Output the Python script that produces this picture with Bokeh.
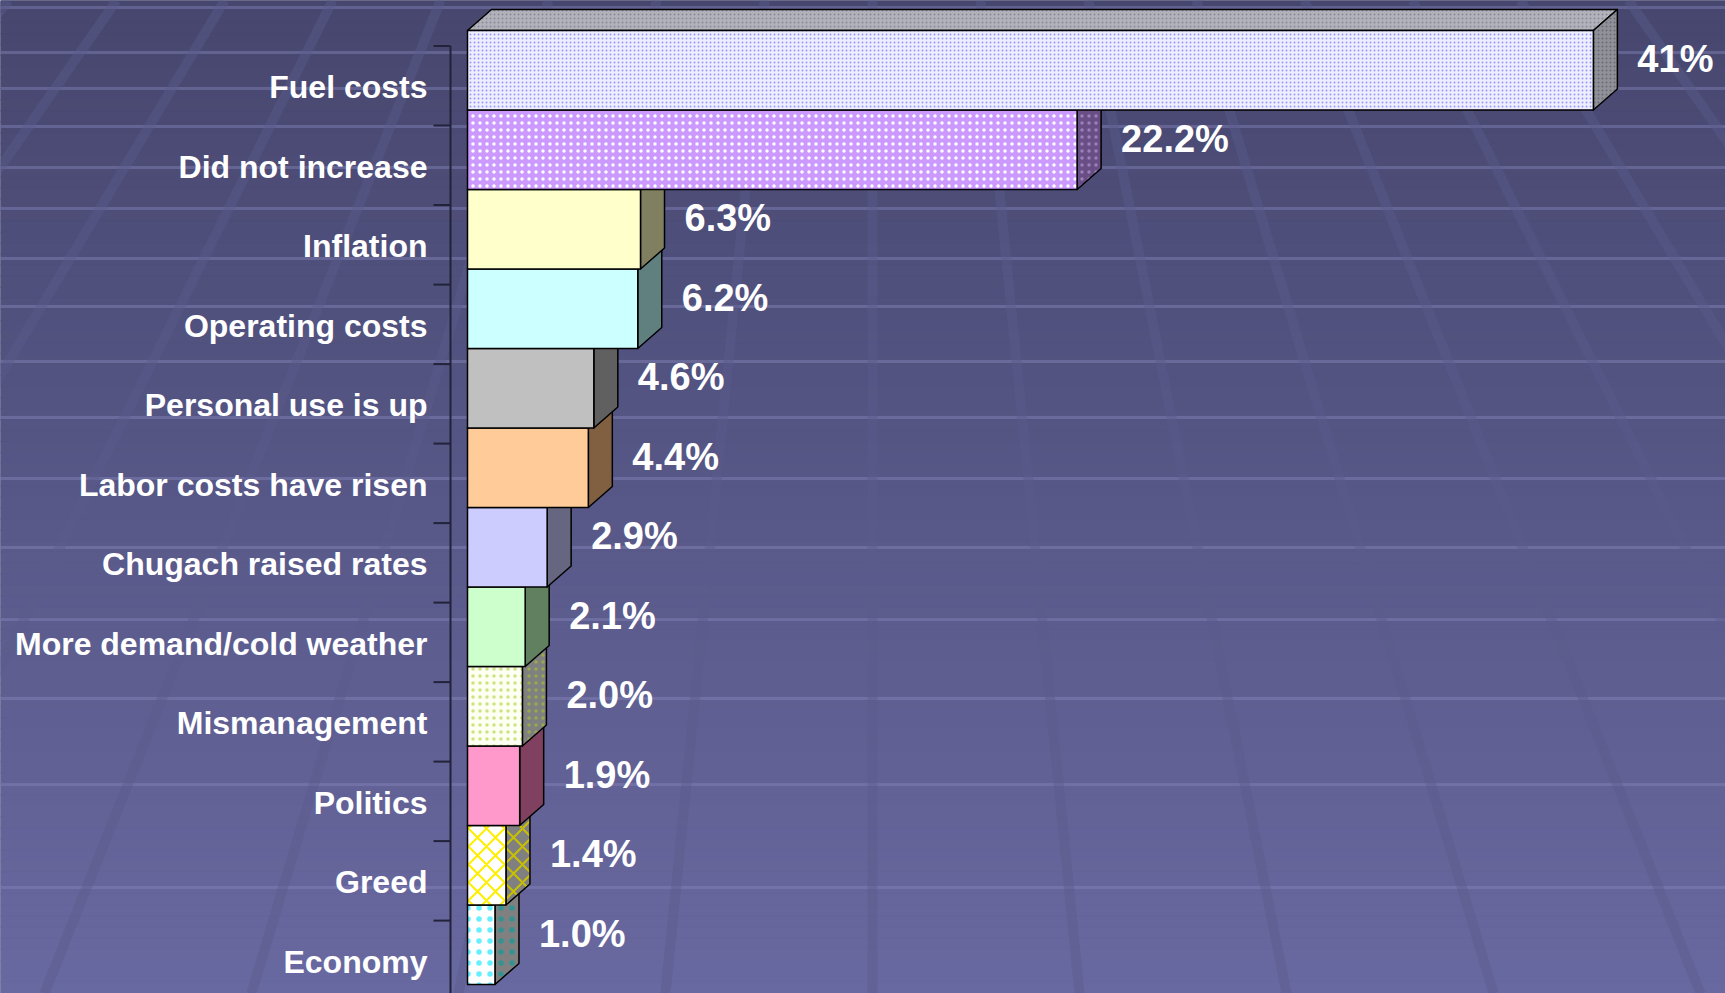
from bokeh.plotting import figure
from bokeh.embed import file_html
from bokeh.resources import INLINE
from bokeh.core.properties import value, field
from bokeh.models import ColumnDataSource

# ---------------- data ----------------
categories = ["Fuel costs", "Did not increase", "Inflation", "Operating costs",
              "Personal use is up", "Labor costs have risen", "Chugach raised rates",
              "More demand/cold weather", "Mismanagement", "Politics", "Greed", "Economy"]
values = [41.0, 22.2, 6.3, 6.2, 4.6, 4.4, 2.9, 2.1, 2.0, 1.9, 1.4, 1.0]
value_labels = ["41%", "22.2%", "6.3%", "6.2%", "4.6%", "4.4%", "2.9%", "2.1%",
                "2.0%", "1.9%", "1.4%", "1.0%"]

# ---------------- styles ----------------
front_colors = ["#eeeeff", "#cc99ff", "#ffffcc", "#ccffff", "#c0c0c0", "#ffcc99",
                "#ccccff", "#ccffcc", "#fcfff2", "#ff99cc", "#ffffff", "#ffffff"]
front_hatch = [".", ".", " ", " ", " ", " ", " ", " ", ".", " ", "x", "."]
front_hatch_color = ["#9999ff", "#ffffff", "#000000", "#000000", "#000000", "#000000",
                     "#000000", "#000000", "#a8cc20", "#000000", "#ffee00", "#00e5ff"]
front_hatch_scale = [4, 7, 8, 8, 8, 8, 8, 8, 7, 8, 18, 11]
front_hatch_weight = [1.2, 1.2, 1, 1, 1, 1, 1, 1, 0.6, 1, 2, 0.6]
front_hatch_alpha = [1, 1, 1, 1, 1, 1, 1, 1, 0.55, 1, 1, 0.6]
side_colors = ["#909098", "#684e84", "#808060", "#608080", "#606060", "#806040",
               "#666680", "#608060", "#808080", "#804060", "#808080", "#808080"]
side_hatch = [".", ".", " ", " ", " ", " ", " ", " ", ".", " ", "x", "."]
side_hatch_color = ["#6a6a78", "#9a80b8", "#000000", "#000000", "#000000", "#000000",
                    "#000000", "#000000", "#a8cc20", "#000000", "#c8c000", "#00a0a0"]
TOP_COLOR = "#b2b2bc"
TOP_HATCH_COLOR = "#8a8a96"

W, H = 1725, 993
PXX = 27.46          # px per percentage point
PXY = 79.5           # px per category band
X0_PX = 467          # screen x of 0 %
TOP_PX = 30          # screen y of top bar's front edge
DX = 24 / PXX        # 3-D depth offset (data units)
DY = 21 / PXY

n = len(categories)
centers = [n - 1 - i for i in range(n)]
xs0 = -X0_PX / PXX
xe0 = xs0 + W / PXX
ye0 = (n - 0.5) + TOP_PX / PXY
ys0 = ye0 - H / PXY


def sx(px):
    return xs0 + px / PXX


def sy(py):
    return ye0 - py / PXY


p = figure(width=W, height=H, x_range=(xs0, xe0), y_range=(ys0, ye0),
           output_backend="svg", toolbar_location=None, min_border=0,
           x_axis_location=None, y_axis_location=None)
p.grid.visible = False
p.outline_line_color = None
p.background_fill_color = "#55557f"
p.border_fill_color = "#55557f"

# ---------------- background (decorative) ----------------
top_rgb = (0x46, 0x46, 0x6e)
bot_rgb = (0x69, 0x69, 0xa1)
NSTRIP = 90
g_top, g_bot, g_col = [], [], []
for k in range(NSTRIP):
    t = (k + 0.5) / NSTRIP
    c = tuple(int(round(a + (b - a) * t)) for a, b in zip(top_rgb, bot_rgb))
    g_top.append(sy(H * k / NSTRIP))
    g_bot.append(sy(H * (k + 1) / NSTRIP) - 0.001)
    g_col.append("#%02x%02x%02x" % c)
p.quad(left=xs0, right=xe0, top=g_top, bottom=g_bot, fill_color=g_col,
       line_color=g_col, line_width=1)

h_lines_px = [7, 52, 88, 126, 167, 208, 258, 306, 361, 417, 478, 547, 619, 698, 784, 887]
p.segment(x0=xs0, x1=xe0, y0=[sy(v) for v in h_lines_px],
          y1=[sy(v) for v in h_lines_px], line_color="#8686bb",
          line_alpha=0.45, line_width=3)

VX, VY = 872, -1083
d_x0, d_y0, d_x1, d_y1 = [], [], [], []
for k in range(-9, 10):
    x_top = VX + 108 * k
    x_bot = VX + 108 * k * (H - VY) / (0 - VY)
    d_x0.append(sx(x_top)); d_y0.append(sy(0))
    d_x1.append(sx(x_bot)); d_y1.append(sy(H))
p.segment(x0=d_x0, y0=d_y0, x1=d_x1, y1=d_y1, line_color="#5b5b8c",
          line_alpha=0.45, line_width=10)

# ---------------- axis line & ticks ----------------
AX = sx(450)
TICK = 17 / PXX
SHIFT = 15.6 / PXY
tick_y = [c + 0.5 - SHIFT for c in centers]
p.segment(x0=AX, x1=AX, y0=tick_y[0], y1=ys0, line_color="#22223a", line_width=2)
p.segment(x0=AX - TICK, x1=AX, y0=tick_y, y1=tick_y, line_color="#22223a", line_width=2)

# ---------------- 3-D bars ----------------
order = list(range(n - 1, -1, -1))  # bottom bar first
top_xs, top_ys, side_xs, side_ys, fr_xs, fr_ys = [], [], [], [], [], []
for i in order:
    v, c = values[i], centers[i]
    lo, hi = c - 0.5, c + 0.5
    top_xs.append([0, v, v + DX, DX]); top_ys.append([hi, hi, hi + DY, hi + DY])
    side_xs.append([v, v + DX, v + DX, v]); side_ys.append([lo, lo + DY, hi + DY, hi])
    fr_xs.append([0, v, v, 0]); fr_ys.append([lo, lo, hi, hi])

p.patches(top_xs, top_ys, fill_color=TOP_COLOR, hatch_pattern=".",
          hatch_color=TOP_HATCH_COLOR, hatch_scale=4, line_color="#000000",
          line_width=1.5, line_join="round")

side_src = ColumnDataSource(dict(
    xs=side_xs, ys=side_ys,
    fc=[side_colors[i] for i in order], hp=[side_hatch[i] for i in order],
    hc=[side_hatch_color[i] for i in order], hs=[front_hatch_scale[i] for i in order],
    hw=[front_hatch_weight[i] for i in order], ha=[front_hatch_alpha[i] for i in order]))
p.patches("xs", "ys", source=side_src, fill_color="fc", hatch_pattern=field("hp"),
          hatch_color="hc", hatch_scale="hs", hatch_weight="hw", hatch_alpha="ha",
          line_color="#000000", line_width=1.5, line_join="round")

fr_src = ColumnDataSource(dict(
    xs=fr_xs, ys=fr_ys,
    fc=[front_colors[i] for i in order], hp=[front_hatch[i] for i in order],
    hc=[front_hatch_color[i] for i in order], hs=[front_hatch_scale[i] for i in order],
    hw=[front_hatch_weight[i] for i in order], ha=[front_hatch_alpha[i] for i in order]))
p.patches("xs", "ys", source=fr_src, fill_color="fc", hatch_pattern=field("hp"),
          hatch_color="hc", hatch_scale="hs", hatch_weight="hw", hatch_alpha="ha",
          line_color="#000000", line_width=1.5, line_join="round")

# ---------------- labels ----------------
cat_src = ColumnDataSource(dict(x=[sx(427)] * n, y=[c - 17 / PXY for c in centers],
                                text=categories))
p.text(x="x", y="y", text="text", source=cat_src, text_align="right",
       text_baseline="alphabetic", text_color="#ffffff",
       text_font=value("Liberation Sans"), text_font_style="bold",
       text_font_size=value("32px"))

val_src = ColumnDataSource(dict(x=[v + DX for v in values],
                                y=[c + 11 / PXY for c in centers], text=value_labels))
p.text(x="x", y="y", text="text", source=val_src, x_offset=20, text_align="left",
       text_baseline="alphabetic", text_color="#ffffff",
       text_font=value("Liberation Sans"), text_font_style="bold",
       text_font_size=value("38px"))

open("out.html", "w").write(file_html(p, INLINE))
